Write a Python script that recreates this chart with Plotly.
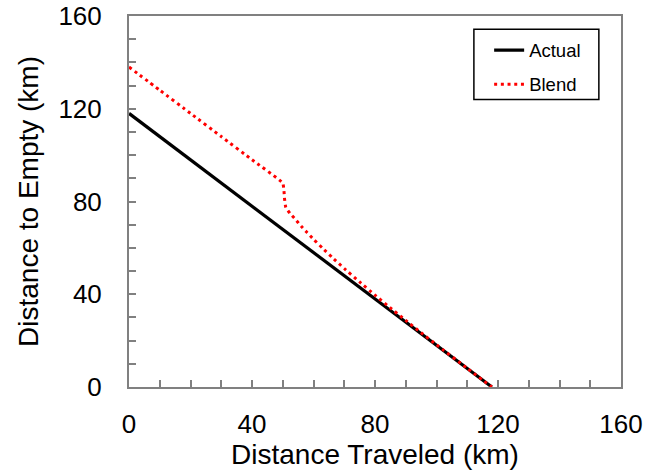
import plotly.graph_objects as go

# Data
actual_x = [0, 118]
actual_y = [118, 0]

blend_x = [0, 10, 20, 30, 40, 50, 50.4, 50.6, 51, 52.4, 54.2, 56, 58, 60, 63, 66, 70, 75, 80, 85, 90, 95, 100, 110, 118]
blend_y = [138, 128, 118, 108, 98, 88, 84.5, 80.9, 77.4, 74.8, 72.2, 69.3, 66.5, 63.7, 59.8, 56, 51.1, 45.3, 39.6, 34.1, 28.7, 23.4, 18.2, 8.05, 0]

x_ticks = [0, 40, 80, 120, 160]
y_ticks = [0, 40, 80, 120, 160]

FONT = "Liberation Sans, Arial, Helvetica, sans-serif"

fig = go.Figure()
fig.add_trace(go.Scatter(x=actual_x, y=actual_y, mode="lines", name="Actual",
                         line=dict(color="black", width=3.2), legendgroup="a"))
fig.add_trace(go.Scatter(x=blend_x, y=blend_y, mode="lines", name="Blend",
                         line=dict(color="#ff0000", width=3, dash="3px,3.7px", shape="spline", smoothing=0.3),
                         legendgroup="b"))

axis_common = dict(
    showgrid=False, zeroline=False, automargin=False,
    showline=True, linecolor="#808080", linewidth=2, mirror=True,
    ticks="inside", ticklen=7, tickwidth=1.5, tickcolor="#808080",
    tickfont=dict(family=FONT, size=26, color="black"),
    ticklabeloverflow="allow",
    minor=dict(ticks="inside", ticklen=7, tickwidth=1.5, tickcolor="#808080", dtick=10, showgrid=False),
)

fig.update_xaxes(range=[0, 160], tickvals=x_ticks, ticktext=[str(v) for v in x_ticks],
                 title=dict(text="Distance Traveled (km)", font=dict(family=FONT, size=28, color="black"), standoff=4),
                 ticklabelstandoff=13, **axis_common)
fig.update_yaxes(range=[0, 160], tickvals=y_ticks, ticktext=[str(v) for v in y_ticks],
                 title=dict(text="Distance to Empty (km)", font=dict(family=FONT, size=28, color="black"), standoff=12),
                 ticklabelstandoff=20, **axis_common)

# legend frame
fig.add_shape(type="rect", xref="paper", yref="paper",
              x0=0.701, x1=0.955, y0=0.775, y1=0.964,
              line=dict(color="black", width=1.5), fillcolor="rgba(0,0,0,0)", layer="above")

fig.update_layout(
    width=658, height=475,
    margin=dict(l=129, r=37, t=16, b=88, autoexpand=False),
    paper_bgcolor="white", plot_bgcolor="white",
    showlegend=True,
    legend=dict(x=0.732, y=0.958, xanchor="left", yanchor="top",
                borderwidth=0, bgcolor="rgba(0,0,0,0)",
                font=dict(family=FONT, size=18.5, color="black"),
                traceorder="grouped", tracegroupgap=7, itemwidth=30),
)

# remove the browser's default 8px body margin so the figure sits at the page corner
fig.write_html("out.html", config={"displayModeBar": False},
               post_script="document.body.style.margin='0';")
